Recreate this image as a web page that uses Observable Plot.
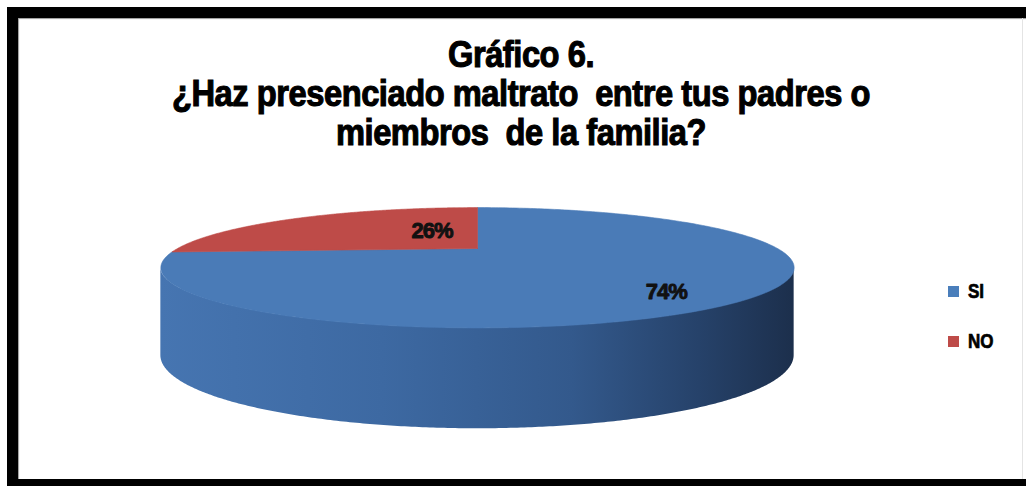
<!DOCTYPE html>
<html>
<head>
<meta charset="utf-8">
<script src="https://cdn.jsdelivr.net/npm/d3@7"></script>
<script src="https://cdn.jsdelivr.net/npm/@observablehq/plot@0.6"></script>
<style>
html,body{margin:0;padding:0;width:1026px;height:486px;overflow:hidden;background:#fff;}
#frame{position:absolute;left:7px;top:7px;width:1040px;height:483px;border:11px solid #000;box-sizing:border-box;box-shadow:inset 1px 1px 1px #999;}
#rline{position:absolute;left:1022px;top:18px;width:1px;height:461px;background:#e4e4e4;}
#chart{position:absolute;left:0;top:0;}
#title{position:absolute;left:0;top:35px;width:1042px;text-align:center;font-family:"Liberation Sans",Arial,sans-serif;font-weight:bold;font-size:36px;line-height:39px;letter-spacing:-0.5px;color:#000;-webkit-text-stroke:1.1px #000;}
#title div{white-space:pre;transform-origin:521px 0;}
.leg{position:absolute;left:948px;height:20px;display:flex;align-items:center;font-family:"Liberation Sans",Arial,sans-serif;font-weight:bold;font-size:20px;color:#000;-webkit-text-stroke:0.7px #000;}
.leg span{display:inline-block;width:11px;height:11px;margin-right:9px;}
.leg b{display:inline-block;transform:scaleX(0.85);transform-origin:0 50%;}
</style>
</head>
<body>
<div id="frame"></div>
<div id="rline"></div>
<div id="chart"></div>
<div id="title"></div>
<div id="legend"></div>
<script>
// ---- data ----
const titleLines = ["Gráfico 6.", "¿Haz presenciado maltrato  entre tus padres o", "miembros  de la familia?"];
const categories = ["SI", "NO"];
const values = [74, 26];
const labels = ["74%", "26%"];
const colors = ["#4A7BB7", "#BE4B48"];
const legendColors = ["#4A7EBB", "#BE4B48"];

// ---- style / geometry options ----
const persp = 0.32;      // perspective strength
const depth = 1.54;      // side depth in y units
const labelR = [0.70, 0.30];
const labelNudge = [[8, 13], [16, -7]];

const proj = (theta, r) => {
  const u = r * Math.sin(theta), v = -r * Math.cos(theta);
  const s = 1 / (1 - persp * v);
  return [u * s, v * s, s];
};

const arcs = d3.pie().sort(null).startAngle(0).endAngle(2 * Math.PI)(values);

// visible side range: between extreme left and right points of the top face (front half)
let thR = 0, thL = 0, maxX = -Infinity, minX = Infinity;
for (let k = 0; k <= 3600; k++) {
  const t = Math.PI * 2 * k / 3600;
  const [X] = proj(t, 1);
  if (X > maxX) { maxX = X; thR = t; }
  if (X < minX) { minX = X; thL = t; }
}

const topFaces = arcs.map((a, i) => {
  const pts = [{X: 0, Y: 0}];
  const n = 300;
  for (let k = 0; k <= n; k++) {
    const t = a.startAngle + (a.endAngle - a.startAngle) * k / n;
    const [X, Y] = proj(t, 1);
    pts.push({X, Y});
  }
  pts.push({X: 0, Y: 0});
  return pts;
});

const sides = arcs.map((a, i) => {
  const t0 = Math.max(a.startAngle, thR), t1 = Math.min(a.endAngle, thL);
  const pts = [];
  if (t1 > t0) {
    const n = 300;
    for (let k = 0; k <= n; k++) {
      const t = t0 + (t1 - t0) * k / n;
      const [X, Y, s] = proj(t, 1);
      pts.push({X, Yt: Y, Yb: Y + depth * Math.sqrt(s)});
    }
  }
  return pts;
});

const labelPts = arcs.map((a, i) => {
  const [X, Y] = proj((a.startAngle + a.endAngle) / 2, labelR[i]);
  return {X, Y, text: labels[i], dx: labelNudge[i][0], dy: labelNudge[i][1]};
});

const marks = [];
sides.forEach((pts, i) => {
  if (pts.length) marks.push(Plot.areaY(pts, {x: "X", y1: "Yt", y2: "Yb", curve: "linear", fill: `url(#side${i})`}));
});
topFaces.forEach((pts, i) => {
  marks.push(Plot.line(pts, {x: "X", y: "Y", curve: "linear", fill: colors[i], stroke: colors[i], strokeWidth: 0.6}));
});
labelPts.forEach(d => {
  marks.push(Plot.text([d], {x: "X", y: "Y", text: "text", dx: d.dx, dy: d.dy, fill: "#111", stroke: "#111", strokeWidth: 0.9,
    fontSize: 22, fontWeight: "bold", fontFamily: "Liberation Sans, Arial, sans-serif", textAnchor: "middle", lineAnchor: "middle"}));
});

const svg = Plot.plot({
  width: 1026, height: 486,
  margin: 0,
  x: {domain: [-1, 1], range: [177, 777], axis: null},
  y: {domain: [-1, 1], range: [194, 302], axis: null},
  style: {background: "transparent", overflow: "visible"},
  marks
});

// gradients for the side walls
const defs = d3.select(svg).insert("defs", ":first-child");
const gradStops = [
  [[0, "#4675B1"], [0.35, "#3D69A2"], [0.65, "#33598C"], [0.85, "#26426A"], [1, "#1C2F4C"]],
  [[0, "#B04542"], [0.5, "#963a37"], [1, "#6a2826"]]
];
gradStops.forEach((stops, i) => {
  const g = defs.append("linearGradient").attr("id", `side${i}`).attr("x1", 0).attr("x2", 1).attr("y1", 0).attr("y2", 0);
  stops.forEach(([o, c]) => g.append("stop").attr("offset", o).attr("stop-color", c));
});
// slightly condense the percentage labels
d3.select(svg).selectAll("text").attr("letter-spacing", "-1px");
document.getElementById("chart").appendChild(svg);

// title
const titleEl = document.getElementById("title");
titleLines.forEach(t => { const d = document.createElement("div"); d.textContent = t; titleEl.appendChild(d); });
// condense the title horizontally so that the long line spans ~698px
const measure = document.createElement("span");
measure.style.cssText = "position:absolute;visibility:hidden;white-space:pre;font-family:'Liberation Sans',Arial,sans-serif;font-weight:bold;font-size:36px;letter-spacing:-0.5px;";
measure.textContent = titleLines[1];
document.body.appendChild(measure);
const natural = measure.getBoundingClientRect().width;
measure.remove();
const sx = 698 / natural;
titleEl.querySelectorAll("div").forEach(d => d.style.transform = `scaleX(${sx})`);

// legend
const legendEl = document.getElementById("legend");
categories.forEach((c, i) => {
  const d = document.createElement("div");
  d.className = "leg";
  d.style.top = (281 + i * 50) + "px";
  const sw = document.createElement("span");
  sw.style.background = legendColors[i];
  d.appendChild(sw);
  const b = document.createElement("b");
  b.textContent = c;
  d.appendChild(b);
  legendEl.appendChild(d);
});
</script>
</body>
</html>
